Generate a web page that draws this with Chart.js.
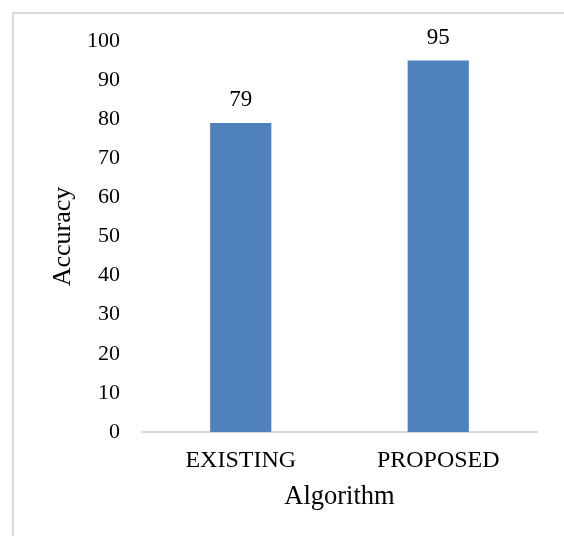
<!DOCTYPE html>
<html>
<head>
<meta charset="utf-8">
<script src="https://cdn.jsdelivr.net/npm/chart.js@4/dist/chart.umd.min.js"></script>
<style>
  html, body { margin: 0; padding: 0; background: #fff; }
  #wrap { position: relative; width: 564px; height: 536px; overflow: hidden; }
  #frame { position: absolute; left: 12px; top: 12px; width: 600px; height: 600px;
           border-left: 2px solid #d9d9d9; border-top: 2px solid #d9d9d9; }
  canvas { position: absolute; left: 0; top: 0; }
</style>
</head>
<body>
<div id="wrap">
  <div id="frame"></div>
  <canvas id="accChart" width="564" height="536"></canvas>
</div>
<script>
// chart data
const algorithms = ['EXISTING', 'PROPOSED'];
const accuracy = [79, 95];
const yTicks = [0, 10, 20, 30, 40, 50, 60, 70, 80, 90, 100];

const FONT = "'Liberation Serif', 'Times New Roman', serif";
const BAR_BLUE = '#4f81bd';
const INK = '#000';

// value labels over the bars
const valueLabels = {
  id: 'valueLabels',
  afterDatasetsDraw(chart) {
    const ctx = chart.ctx;
    const meta = chart.getDatasetMeta(0);
    ctx.save();
    ctx.font = '23px ' + FONT;
    ctx.fillStyle = INK;
    ctx.textAlign = 'center';
    ctx.textBaseline = 'middle';
    meta.data.forEach((bar, i) => {
      ctx.fillText(String(accuracy[i]), bar.x, bar.y - 23);
    });
    ctx.restore();
  }
};

new Chart(document.getElementById('accChart'), {
  type: 'bar',
  data: {
    labels: algorithms,
    datasets: [{
      data: accuracy,
      backgroundColor: BAR_BLUE,
      borderWidth: 0,
      barPercentage: 0.62,
      categoryPercentage: 0.5
    }]
  },
  options: {
    responsive: false,
    animation: false,
    events: [],
    layout: { padding: { top: 41, right: 27, bottom: 0, left: 0 } },
    plugins: {
      legend: { display: false },
      tooltip: { enabled: false }
    },
    scales: {
      x: {
        grid: { display: false, drawTicks: false },
        border: { display: true, color: '#d9d9d9', width: 2 },
        ticks: { color: INK, font: { family: FONT, size: 24 }, padding: 14 },
        title: {
          display: true, text: 'Algorithm', color: INK,
          font: { family: FONT, size: 26.5 }, padding: { top: 0, bottom: 23 }
        },
        afterFit(s) { s.height = 104; }
      },
      y: {
        min: 0, max: 100,
        afterBuildTicks(s) { s.ticks = yTicks.map(v => ({ value: v })); },
        grid: { display: false, drawTicks: false },
        border: { display: false },
        ticks: { color: INK, font: { family: FONT, size: 22 }, padding: 22 },
        title: {
          display: true, text: 'Accuracy', color: INK,
          font: { family: FONT, size: 26 }, padding: { top: 48, bottom: 0 }
        },
        afterFit(s) { s.width = 142; }
      }
    }
  },
  plugins: [valueLabels]
});
</script>
</body>
</html>
